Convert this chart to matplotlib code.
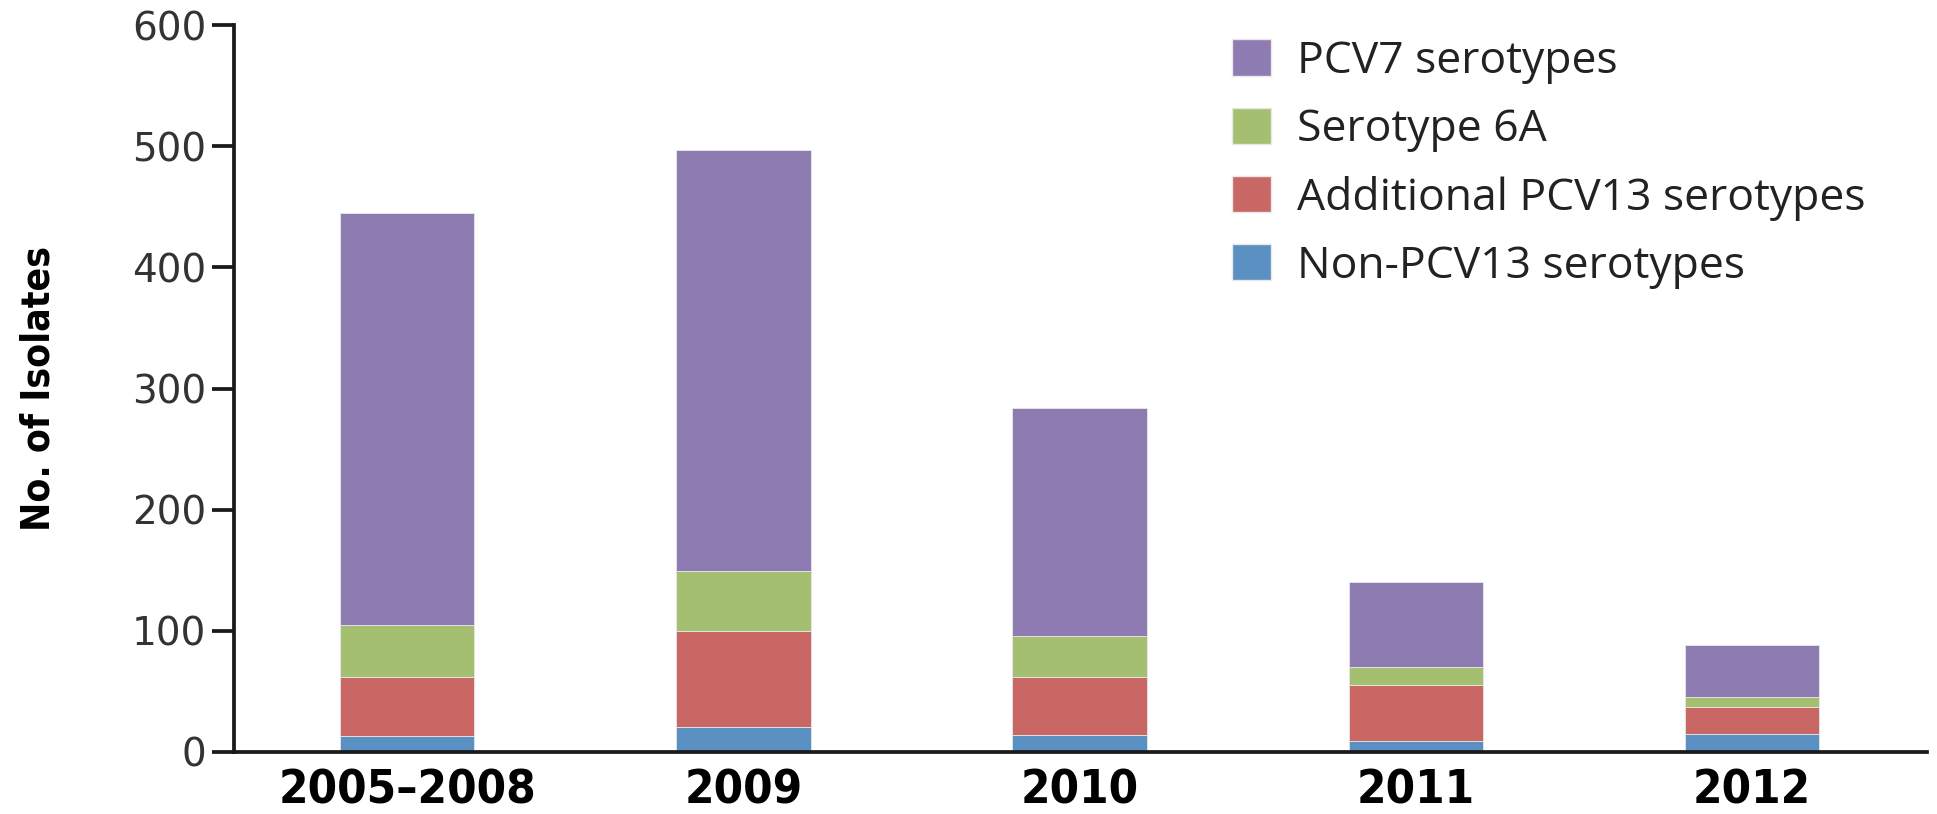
import numpy as np
import matplotlib
matplotlib.use("Agg")
import matplotlib.pyplot as plt
from matplotlib.patches import Patch

# Data
periods = ['2005\u20132008', '2009', '2010', '2011', '2012']
non_pcv13 = [13, 21, 14, 9, 15]
additional_pcv13 = [49, 79, 48, 46, 22]
serotype_6a = [43, 49, 34, 15, 8]
pcv7 = [340, 348, 188, 70, 43]

colors = {
    'pcv7': '#8e7bb1',
    '6a': '#a4bf6f',
    'add': '#c96764',
    'non': '#5b90c3',
}

fig = plt.figure(figsize=(19.37, 8.14), dpi=100)
ax = fig.add_axes([0.1208, 0.0762, 0.874, 0.893])

x = np.arange(len(periods))
w = 0.40
bottom = np.zeros(len(periods))
layers = [
    (non_pcv13, colors['non']),
    (additional_pcv13, colors['add']),
    (serotype_6a, colors['6a']),
    (pcv7, colors['pcv7']),
]
for vals, c in layers:
    ax.bar(x, vals, w, bottom=bottom, color=c, edgecolor='#e8e8e8',
           linewidth=0.6, zorder=2)
    bottom += np.array(vals)

ax.set_xlim(-0.515, 4.52)
ax.set_ylim(0, 600)
ax.set_yticks(range(0, 601, 100))
ax.set_xticks(x)
ax.set_xticklabels(periods, fontfamily='DejaVu Sans', fontstretch='condensed',
                   fontweight='bold', fontsize=34)
for lab in ax.get_yticklabels():
    lab.set_fontfamily('DejaVu Sans')
    lab.set_fontsize(28)
    lab.set_color('#333333')

for s in ['top', 'right']:
    ax.spines[s].set_visible(False)
for s in ['left', 'bottom']:
    ax.spines[s].set_linewidth(2.7)
    ax.spines[s].set_color('#1a1a1a')
ax.tick_params(axis='y', length=16, width=2.7, color='#1a1a1a', pad=4)
ax.tick_params(axis='x', length=0, pad=12)

ax.set_ylabel('No. of Isolates', fontfamily='DejaVu Sans', fontstretch='condensed',
              fontweight='bold', fontsize=28)
ax.yaxis.set_label_coords(-0.104, 0.5)

handles = [
    Patch(facecolor=colors['pcv7'], edgecolor='#e8e8e8', label='PCV7 serotypes'),
    Patch(facecolor=colors['6a'], edgecolor='#e8e8e8', label='Serotype 6A'),
    Patch(facecolor=colors['add'], edgecolor='#e8e8e8', label='Additional PCV13 serotypes'),
    Patch(facecolor=colors['non'], edgecolor='#e8e8e8', label='Non-PCV13 serotypes'),
]
leg = fig.legend(handles=handles, loc='upper left', bbox_to_anchor=(0.636, 0.9515),
                 frameon=False, prop={'family': 'Open Sans', 'size': 32},
                 handlelength=0.88, handleheight=0.88, labelspacing=0.53,
                 handletextpad=0.58, borderpad=0, borderaxespad=0)
for t in leg.get_texts():
    t.set_color('#222222')

fig.savefig('out.png', dpi=100)
